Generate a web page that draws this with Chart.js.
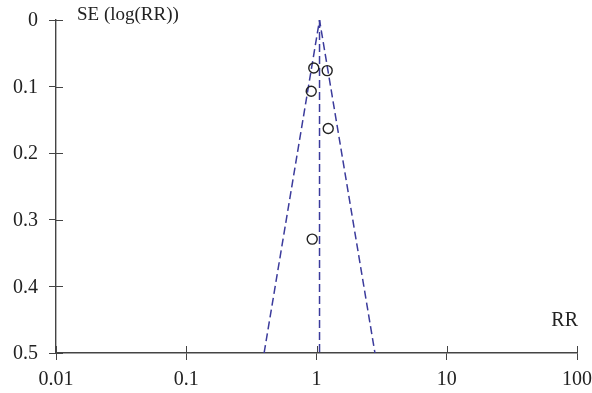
<!DOCTYPE html>
<html>
<head>
<meta charset="utf-8">
<script src="https://cdn.jsdelivr.net/npm/chart.js@4"></script>
<style>
  html, body { margin: 0; padding: 0; background: #fff; }
  #wrap { width: 592px; height: 393px; position: relative; }
</style>
</head>
<body>
<div id="wrap"><canvas id="funnel"></canvas></div>
<script>
  // study estimates
  const studyRR = [0.953, 1.208, 0.911, 1.23, 0.927];
  const studySE = [0.072, 0.076, 0.107, 0.163, 0.329];

  // pooled estimate and 95% funnel limits
  const funnelRR = [0.396, 1.055, 2.81];
  const funnelSE = [0.5, 0, 0.5];
  const pooledRR = [1.055, 1.055];
  const pooledSE = [0, 0.5];

  const xTicks = [0.01, 0.1, 1, 10, 100];
  const yTicks = [0, 0.1, 0.2, 0.3, 0.4, 0.5];

  const axisColor = '#444';
  const textColor = '#222';
  const dashColor = '#3b3b9c';
  const serif = "'Liberation Serif', 'DejaVu Serif', serif";

  const toPoints = (xs, ys) => xs.map((x, i) => ({ x: x, y: ys[i] }));

  // little tick marks on the inner side of each axis
  const innerTicks = {
    id: 'innerTicks',
    afterDraw(chart) {
      const { ctx, scales: { x, y } } = chart;
      ctx.save();
      ctx.strokeStyle = axisColor;
      ctx.lineWidth = 1;
      xTicks.forEach(v => {
        const px = Math.round(x.getPixelForValue(v)) + 0.5;
        ctx.beginPath();
        ctx.moveTo(px, x.top);
        ctx.lineTo(px, x.top - 7);
        ctx.stroke();
      });
      yTicks.forEach(v => {
        const py = Math.round(y.getPixelForValue(v)) + 0.5;
        ctx.beginPath();
        ctx.moveTo(y.right, py);
        ctx.lineTo(y.right + 7, py);
        ctx.stroke();
      });
      ctx.restore();
    }
  };

  const axisLabels = {
    id: 'axisLabels',
    afterDraw(chart) {
      const { ctx, chartArea } = chart;
      ctx.save();
      ctx.fillStyle = textColor;
      ctx.textBaseline = 'alphabetic';
      ctx.textAlign = 'left';
      ctx.font = '19px ' + serif;
      ctx.fillText('SE (log(RR))', chartArea.left + 21, chartArea.top - 0.5);
      ctx.textAlign = 'right';
      ctx.font = '20px ' + serif;
      ctx.fillText('RR', chartArea.right + 1, chartArea.bottom - 27);
      ctx.restore();
    }
  };

  new Chart(document.getElementById('funnel'), {
    type: 'scatter',
    data: {
      datasets: [
        {
          data: toPoints(studyRR, studySE),
          pointStyle: 'circle',
          pointRadius: 5,
          pointHoverRadius: 5,
          borderColor: '#222',
          borderWidth: 1.4,
          backgroundColor: 'rgba(0,0,0,0)'
        },
        {
          data: toPoints(funnelRR, funnelSE),
          showLine: true,
          borderColor: dashColor,
          borderWidth: 1.5,
          borderDash: [8, 4],
          pointRadius: 0
        },
        {
          data: toPoints(pooledRR, pooledSE),
          showLine: true,
          borderColor: dashColor,
          borderWidth: 1.5,
          borderDash: [8, 4],
          pointRadius: 0
        }
      ]
    },
    options: {
      responsive: true,
      maintainAspectRatio: false,
      animation: false,
      layout: {
        padding: { top: 20, right: 15, left: 0, bottom: 0 }
      },
      plugins: {
        legend: { display: false },
        tooltip: { enabled: false }
      },
      scales: {
        x: {
          type: 'logarithmic',
          min: 0.01,
          max: 100,
          afterBuildTicks(scale) {
            scale.ticks = xTicks.map(v => ({ value: v }));
          },
          afterFit(scale) {
            scale.height = 40;
            scale.paddingLeft = 0;
            scale.paddingRight = 0;
          },
          ticks: {
            color: textColor,
            font: { family: serif, size: 20 },
            padding: 8,
            maxRotation: 0,
            callback: v => String(v)
          },
          grid: {
            drawOnChartArea: false,
            drawTicks: true,
            tickLength: 7,
            color: axisColor
          },
          border: { display: true, color: axisColor, width: 1.4 }
        },
        y: {
          type: 'linear',
          reverse: true,
          min: 0,
          max: 0.5,
          afterBuildTicks(scale) {
            scale.ticks = yTicks.map(v => ({ value: v }));
          },
          afterFit(scale) {
            scale.width = 56;
            scale.paddingTop = 0;
            scale.paddingBottom = 0;
          },
          ticks: {
            color: textColor,
            font: { family: serif, size: 20 },
            padding: 11,
            labelOffset: 1,
            callback: v => String(Math.round(v * 10) / 10)
          },
          grid: {
            drawOnChartArea: false,
            drawTicks: true,
            tickLength: 7,
            color: axisColor
          },
          border: { display: true, color: axisColor, width: 1.4 }
        }
      }
    },
    plugins: [innerTicks, axisLabels]
  });
</script>
</body>
</html>
